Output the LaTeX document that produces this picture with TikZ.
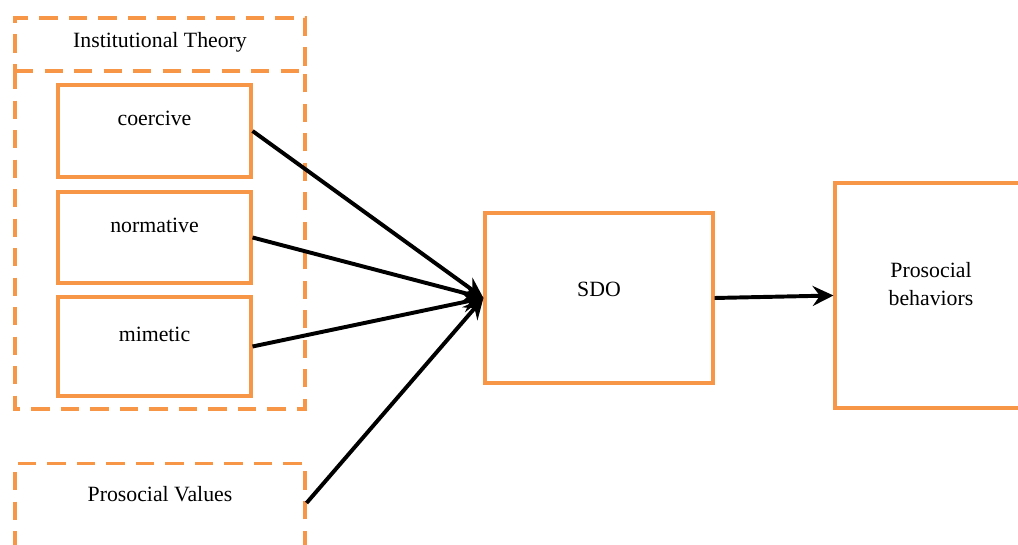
\documentclass[tikz,border=0pt]{standalone}
\usepackage{fontspec}
\setmainfont{Liberation Serif}
\usetikzlibrary{arrows.meta,positioning}
\definecolor{boxorange}{HTML}{F79646}
\tikzset{
  frame/.style={draw=boxorange,line width=2.2pt,rectangle,inner sep=0pt,text height=0.4cm,
    font=\fontsize{15.5}{18}\selectfont},
  group/.style={frame,dash pattern=on 13pt off 8pt},
  pressurebox/.style={frame,minimum width=4.825cm,text depth=0.65cm},
  link/.style={-{Stealth[length=0.52cm,width=0.5cm,inset=0.18cm]},line width=2.8pt}
}
\newcommand\pressure[4]{\node(#1)[pressurebox,minimum height=#3] at (3.8625,#2) {#4};}

\begin{document}
\begin{tikzpicture}
    \clip (0,0) rectangle (25.45,13.625);
    % institutional theory and its three pressures
    \node(inst)[group,minimum width=7.25cm,minimum height=1.325cm,text depth=0.24cm] at (4,12.5125) {Institutional Theory};
    \node(pres)[group,draw=none,outer sep=0pt,minimum width=7.25cm,minimum height=8.45cm] at (4,7.625) {};
    \draw[group] (pres.north west) -- (pres.south west) -- (pres.south east) -- (pres.north east);
    \pressure{coer}{10.35}{2.3cm}{coercive}
    \pressure{norm}{7.6875}{2.275cm}{normative}
    \pressure{mime}{4.9625}{2.475cm}{mimetic}
    % values box runs off the bottom edge
    \node(vals)[group,anchor=north,minimum width=7.25cm,minimum height=3cm,text depth=1.5cm] at (4,2.075) {Prosocial Values};
    \node(sdo)[frame,minimum width=5.7cm,minimum height=4.25cm,text depth=0.45cm] at (14.975,6.175) {SDO};
    \node(beh)[frame,align=center,minimum width=4.8cm,minimum height=5.625cm,text height=1.125cm,text depth=0.6cm] at (23.275,6.2375) {Prosocial\\[2.6pt]behaviors};

    \draw[link] (coer.east) -- (sdo.west);
    \draw[link] (norm.east) -- (sdo.west);
    \draw[link] (mime.east) -- (sdo.west);
    \draw[link] ([yshift=-1.025cm]vals.north east) -- (sdo.west);
    \draw[link] (sdo.east) -- (beh.west);
\end{tikzpicture}
\end{document}
